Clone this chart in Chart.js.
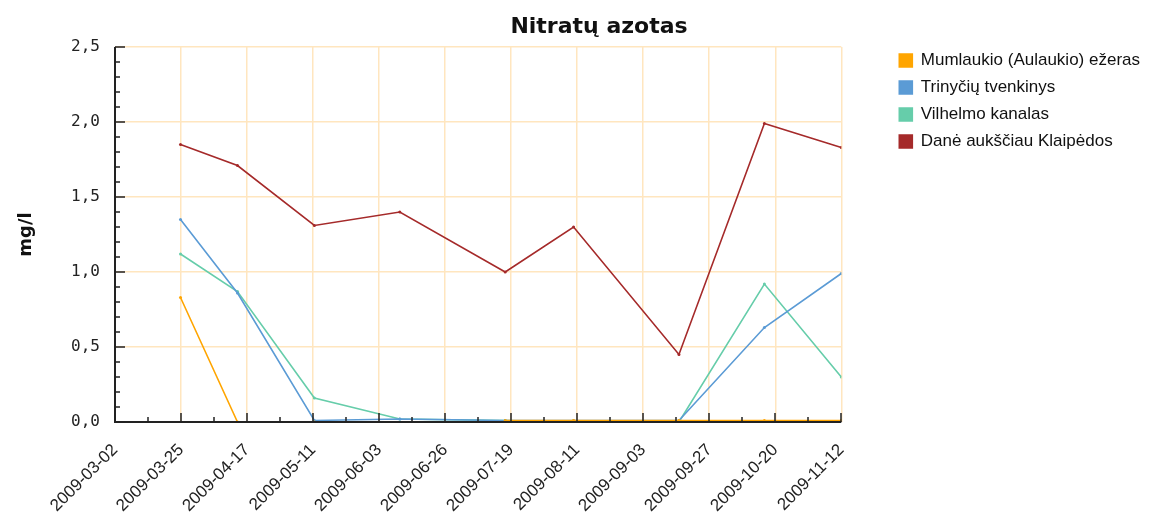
<!DOCTYPE html>
<html lang="lt">
<head>
<meta charset="utf-8">
<title>Nitratų azotas</title>
<script src="https://cdn.jsdelivr.net/npm/chart.js@4.4.1/dist/chart.umd.min.js"></script>
<style>
  html, body { margin: 0; padding: 0; background: #fff; }
  #wrap { width: 1157px; height: 515px; }
</style>
</head>
<body>
<div id="wrap"><canvas id="chart" width="1157" height="515"></canvas></div>
<script>
const chartTitle = 'Nitratų azotas';
const yTitle = 'mg/l';

// x axis tick labels (evenly spread between first and last date)
const xTickLabels = ['2009-03-02', '2009-03-25', '2009-04-17', '2009-05-11', '2009-06-03', '2009-06-26',
                     '2009-07-19', '2009-08-11', '2009-09-03', '2009-09-27', '2009-10-20', '2009-11-12'];

// sampling dates
const sampleDates = ['2009-03-25', '2009-04-14', '2009-05-11', '2009-06-10', '2009-07-17',
                     '2009-08-10', '2009-09-16', '2009-10-16', '2009-11-12'];

const seriesNames = ['Mumlaukio (Aulaukio) ežeras', 'Trinyčių tvenkinys', 'Vilhelmo kanalas', 'Danė aukščiau Klaipėdos'];
const mumlaukio = [0.83, 0.00, 0.00, null, 0.01, 0.01, 0.01, 0.01, 0.01];
const trinyciu  = [1.35, 0.86, 0.01, 0.02, 0.01, 0.01, 0.01, 0.63, 0.99];
const vilhelmo  = [1.12, 0.87, 0.16, 0.02, 0.01, 0.00, 0.00, 0.92, 0.30];
const dane      = [1.85, 1.71, 1.31, 1.40, 1.00, 1.30, 0.45, 1.99, 1.83];

const yMin = 0, yMax = 2.5, yStep = 0.1, yMajor = 0.5;

const COLORS = ['#ffa500', '#5b9bd5', '#66cdaa', '#a52a2a'];
const GRID = '#ffe6bf';

const dayOf = d => (Date.parse(d) - Date.parse(xTickLabels[0])) / 864e5;
const xMax = dayOf(xTickLabels[xTickLabels.length - 1]);
const isMajor = v => Math.abs(v / yMajor - Math.round(v / yMajor)) < 1e-6;
const toPoints = vals => sampleDates.map((d, i) => ({ x: dayOf(d), y: vals[i] }));

const frame = {
    id: 'frame',
    afterDatasetsDraw(chart) {
        const { ctx, chartArea: a, scales: { x, y } } = chart;
        ctx.save();
        ctx.strokeStyle = '#222';
        ctx.lineWidth = 2;
        ctx.beginPath();
        ctx.moveTo(a.left, a.top); ctx.lineTo(a.left, a.bottom); ctx.lineTo(a.right, a.bottom);
        ctx.stroke();
        ctx.lineWidth = 1.5;
        ctx.beginPath();
        x.ticks.forEach((t, i) => {
            const px = Math.round(x.getPixelForValue(t.value));
            ctx.moveTo(px, a.bottom); ctx.lineTo(px, a.bottom - (i % 2 ? 5 : 9));
        });
        y.ticks.forEach(t => {
            const py = Math.round(y.getPixelForValue(t.value));
            ctx.moveTo(a.left, py); ctx.lineTo(a.left + (isMajor(t.value) ? 10 : 5), py);
        });
        ctx.stroke();
        ctx.restore();
    },
    afterDraw(chart) {
        const { ctx } = chart;
        ctx.save();
        ctx.font = 'bold 22px "DejaVu Sans"';
        ctx.fillStyle = '#111';
        ctx.textAlign = 'center';
        ctx.textBaseline = 'alphabetic';
        ctx.fillText(chartTitle, 599, 33);
        ctx.restore();
    }
};

const datasets = [mumlaukio, trinyciu, vilhelmo, dane].map((vals, i) => ({
    label: seriesNames[i],
    data: toPoints(vals),
    borderColor: COLORS[i],
    backgroundColor: COLORS[i],
    borderWidth: 1.6,
    pointRadius: 1.5,
    pointBorderWidth: 0,
    pointHoverRadius: 2,
    tension: 0,
    spanGaps: false
}));

new Chart(document.getElementById('chart'), {
    type: 'line',
    data: { datasets },
    plugins: [frame],
    options: {
        responsive: false,
        animation: false,
        layout: { padding: { top: 42, right: 7, left: 0, bottom: 0 } },
        plugins: {
            title: { display: false },
            tooltip: { enabled: false },
            legend: {
                position: 'right',
                align: 'start',
                labels: {
                    font: { family: 'Liberation Sans', size: 17 },
                    color: '#111',
                    boxWidth: 13,
                    boxHeight: 13,
                    padding: 10
                }
            }
        },
        scales: {
            x: {
                type: 'linear',
                position: 'bottom',
                min: 0,
                max: xMax,
                afterBuildTicks(scale) {
                    const n = (xTickLabels.length - 1) * 2;
                    scale.ticks = Array.from({ length: n + 1 }, (_, i) => ({ value: i * xMax / n }));
                },
                afterFit(scale) { scale.height = 93; },
                grid: {
                    color: c => (c.index % 2 === 0 && c.index > 0 ? GRID : 'transparent'),
                    lineWidth: 1.5,
                    drawTicks: false
                },
                border: { display: false },
                ticks: {
                    autoSkip: false,
                    minRotation: 45,
                    maxRotation: 45,
                    padding: 18,
                    color: '#222',
                    font: { family: 'Liberation Sans', size: 17 },
                    callback: (v, i) => (i % 2 === 0 ? xTickLabels[i / 2] : '')
                }
            },
            xTop: {
                type: 'linear',
                position: 'top',
                display: true,
                grid: { display: false },
                border: { display: false },
                ticks: { display: false },
                afterFit(scale) { scale.height = 5; }
            },
            y: {
                min: yMin,
                max: yMax,
                afterFit(scale) { scale.width = 115; },
                grid: {
                    color: c => (c.tick && isMajor(c.tick.value) && c.tick.value > 0 ? GRID : 'transparent'),
                    lineWidth: 1.5,
                    drawTicks: false
                },
                border: { display: false },
                ticks: {
                    stepSize: yStep,
                    autoSkip: false,
                    padding: 15,
                    color: '#222',
                    font: { family: 'DejaVu Sans Mono', size: 16 },
                    callback: v => (isMajor(v) ? v.toFixed(1).replace('.', ',') : '')
                },
                title: {
                    display: true,
                    text: yTitle,
                    color: '#111',
                    font: { family: 'DejaVu Sans', size: 18, weight: 'bold' },
                    padding: { top: 16, bottom: 0 }
                }
            },
            // empty gap between plot and legend
            yRight: {
                type: 'linear',
                position: 'right',
                display: false,
                afterFit(scale) { scale.width = 48; }
            }
        }
    }
});
</script>
</body>
</html>
